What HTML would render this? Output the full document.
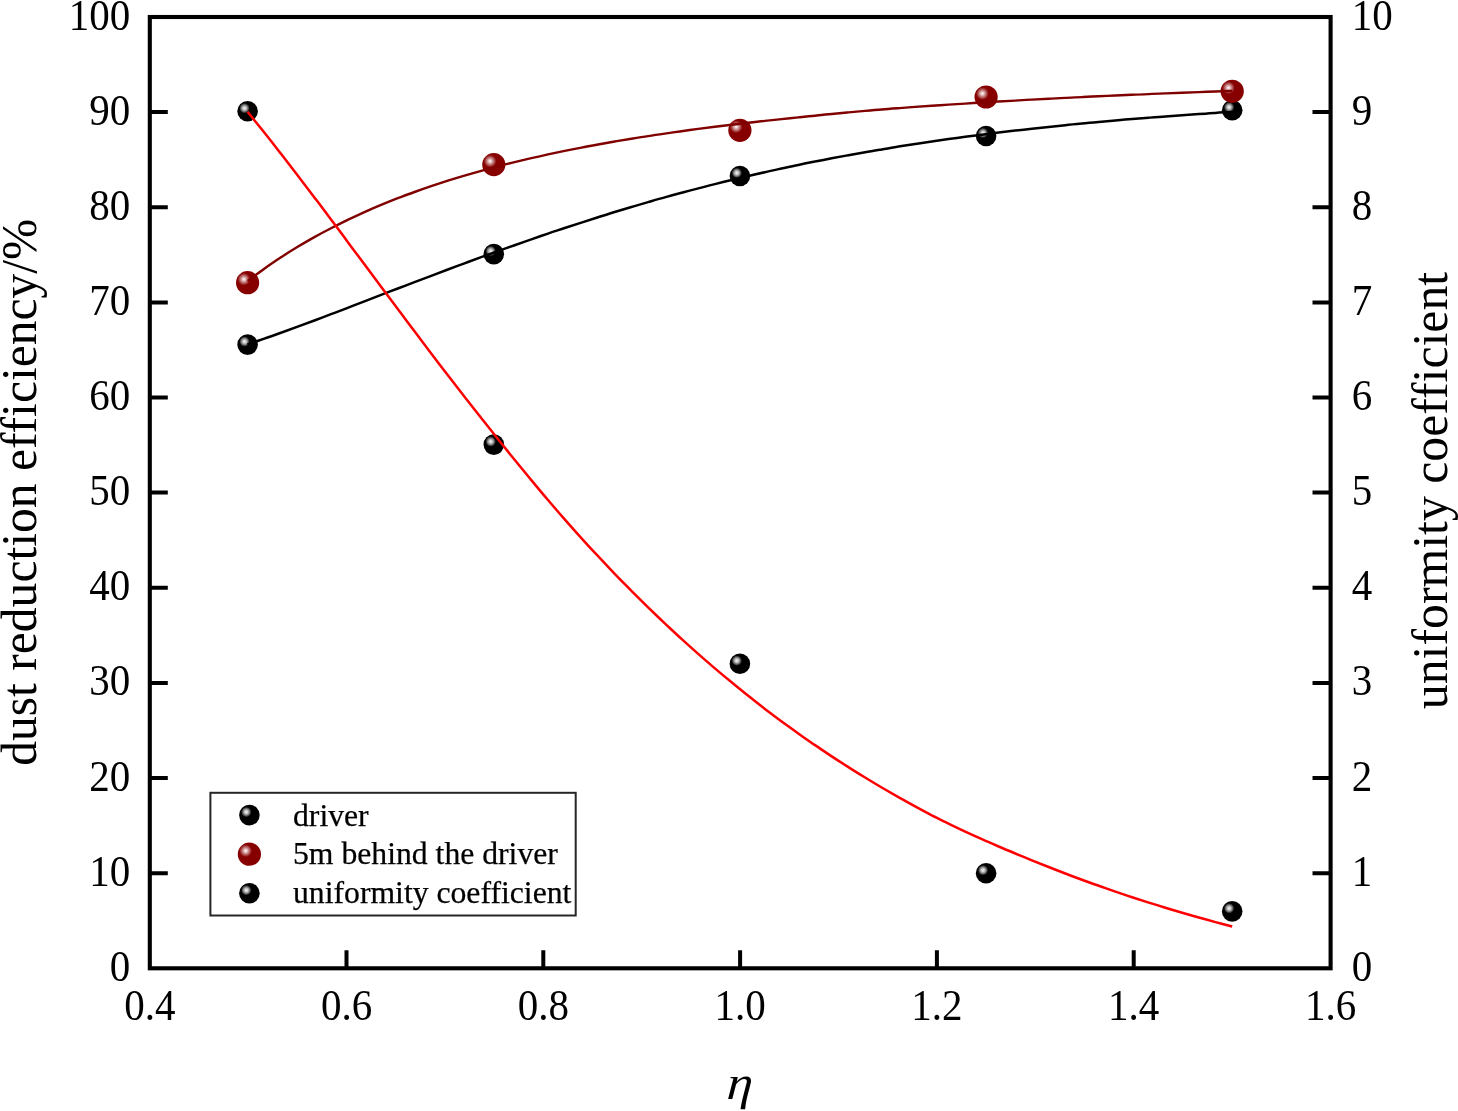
<!DOCTYPE html>
<html lang="en"><head><meta charset="utf-8"><title>Dust reduction efficiency and uniformity coefficient</title>
<style>html,body{margin:0;padding:0;background:#fff}svg{display:block}text{font-family:"Liberation Serif",serif;fill:#000}</style></head><body>
<svg width="1458" height="1111" viewBox="0 0 1458 1111">
<defs>
<radialGradient id="gb" cx="0.35" cy="0.35" r="0.25" fx="0.35" fy="0.35"><stop offset="0" stop-color="#f4f4f4"/><stop offset="0.3" stop-color="#cfcfcf"/><stop offset="0.65" stop-color="#777"/><stop offset="1" stop-color="#000"/></radialGradient>
<radialGradient id="gm" cx="0.34" cy="0.35" r="0.27" fx="0.34" fy="0.35"><stop offset="0" stop-color="#fff"/><stop offset="0.15" stop-color="#f2dcdc"/><stop offset="1" stop-color="#860000"/></radialGradient>
</defs>
<rect width="1458" height="1111" fill="#fff"/>
<rect x="149.8" y="17.0" width="1180.8" height="951.3" fill="none" stroke="#000" stroke-width="4.1"/>
<path d="M149.8,873.2h18M1330.5,873.2h-18M149.8,778.0h18M1330.5,778.0h-18M149.8,682.9h18M1330.5,682.9h-18M149.8,587.8h18M1330.5,587.8h-18M149.8,492.6h18M1330.5,492.6h-18M149.8,397.5h18M1330.5,397.5h-18M149.8,302.4h18M1330.5,302.4h-18M149.8,207.3h18M1330.5,207.3h-18M149.8,112.1h18M1330.5,112.1h-18M346.5,968.3v-18M543.3,968.3v-18M740.1,968.3v-18M936.9,968.3v-18M1133.7,968.3v-18" stroke="#000" stroke-width="4" fill="none"/>
<g font-size="41.0">
<text transform="translate(130.3,980.8) scale(1,1.070)" text-anchor="end">0</text>
<text transform="translate(130.3,885.7) scale(1,1.070)" text-anchor="end">10</text>
<text transform="translate(130.3,790.5) scale(1,1.070)" text-anchor="end">20</text>
<text transform="translate(130.3,695.4) scale(1,1.070)" text-anchor="end">30</text>
<text transform="translate(130.3,600.3) scale(1,1.070)" text-anchor="end">40</text>
<text transform="translate(130.3,505.1) scale(1,1.070)" text-anchor="end">50</text>
<text transform="translate(130.3,410.0) scale(1,1.070)" text-anchor="end">60</text>
<text transform="translate(130.3,314.9) scale(1,1.070)" text-anchor="end">70</text>
<text transform="translate(130.3,219.8) scale(1,1.070)" text-anchor="end">80</text>
<text transform="translate(130.3,124.6) scale(1,1.070)" text-anchor="end">90</text>
<text transform="translate(130.3,29.5) scale(1,1.070)" text-anchor="end">100</text>
<text transform="translate(1351.8,980.8) scale(1,1.070)" text-anchor="start">0</text>
<text transform="translate(1351.8,885.7) scale(1,1.070)" text-anchor="start">1</text>
<text transform="translate(1351.8,790.5) scale(1,1.070)" text-anchor="start">2</text>
<text transform="translate(1351.8,695.4) scale(1,1.070)" text-anchor="start">3</text>
<text transform="translate(1351.8,600.3) scale(1,1.070)" text-anchor="start">4</text>
<text transform="translate(1351.8,505.1) scale(1,1.070)" text-anchor="start">5</text>
<text transform="translate(1351.8,410.0) scale(1,1.070)" text-anchor="start">6</text>
<text transform="translate(1351.8,314.9) scale(1,1.070)" text-anchor="start">7</text>
<text transform="translate(1351.8,219.8) scale(1,1.070)" text-anchor="start">8</text>
<text transform="translate(1351.8,124.6) scale(1,1.070)" text-anchor="start">9</text>
<text transform="translate(1351.8,29.5) scale(1,1.070)" text-anchor="start">10</text>
<text transform="translate(149.8,1019.8) scale(1,1.070)" text-anchor="middle">0.4</text>
<text transform="translate(346.5,1019.8) scale(1,1.070)" text-anchor="middle">0.6</text>
<text transform="translate(543.3,1019.8) scale(1,1.070)" text-anchor="middle">0.8</text>
<text transform="translate(740.1,1019.8) scale(1,1.070)" text-anchor="middle">1.0</text>
<text transform="translate(936.9,1019.8) scale(1,1.070)" text-anchor="middle">1.2</text>
<text transform="translate(1133.7,1019.8) scale(1,1.070)" text-anchor="middle">1.4</text>
<text transform="translate(1330.5,1019.8) scale(1,1.070)" text-anchor="middle">1.6</text>
</g>
<text font-size="49.6" text-anchor="middle" transform="translate(36.2,492.2) rotate(-90)">dust reduction efficiency/%</text>
<text font-size="49.8" text-anchor="middle" transform="translate(1447,490.5) rotate(-90)">uniformity coefficient</text>
<text font-size="48" font-style="italic" text-anchor="middle" transform="translate(739,1099) skewX(-4) scale(1.08,1)">η</text>
<circle cx="247.6" cy="344.6" r="10.3" fill="url(#gb)"/>
<circle cx="493.8" cy="254.1" r="10.3" fill="url(#gb)"/>
<circle cx="739.9" cy="176.0" r="10.3" fill="url(#gb)"/>
<circle cx="986.1" cy="136.0" r="10.3" fill="url(#gb)"/>
<circle cx="1232.2" cy="110.3" r="10.3" fill="url(#gb)"/>
<path d="M247.6,344.5 C250.4,343.5 258.7,340.6 264.3,338.6 C269.9,336.7 275.4,334.7 281.0,332.7 C286.5,330.7 292.1,328.7 297.7,326.6 C303.2,324.6 308.8,322.6 314.4,320.5 C319.9,318.4 325.5,316.3 331.0,314.2 C336.6,312.1 342.2,309.9 347.7,307.8 C353.3,305.7 358.9,303.5 364.4,301.4 C370.0,299.2 375.5,297.1 381.1,294.9 C386.7,292.8 392.2,290.6 397.8,288.5 C403.4,286.4 408.9,284.2 414.5,282.1 C420.0,280.0 425.6,277.9 431.2,275.8 C436.7,273.7 442.3,271.6 447.9,269.5 C453.4,267.5 459.0,265.4 464.5,263.3 C470.1,261.3 475.7,259.2 481.2,257.2 C486.8,255.2 492.4,253.1 497.9,251.1 C503.5,249.1 509.0,247.2 514.6,245.2 C520.2,243.2 525.7,241.3 531.3,239.4 C536.9,237.4 542.4,235.5 548.0,233.6 C553.5,231.7 559.1,229.9 564.7,228.0 C570.2,226.2 575.8,224.4 581.4,222.6 C586.9,220.8 592.5,219.0 598.1,217.2 C603.6,215.5 609.2,213.8 614.7,212.0 C620.3,210.3 625.9,208.7 631.4,207.0 C637.0,205.4 642.6,203.7 648.1,202.1 C653.7,200.5 659.2,198.9 664.8,197.4 C670.4,195.8 675.9,194.3 681.5,192.8 C687.1,191.3 692.6,189.8 698.2,188.4 C703.7,186.9 709.3,185.5 714.9,184.1 C720.4,182.7 726.0,181.3 731.6,180.0 C737.1,178.6 742.7,177.3 748.2,176.0 C753.8,174.7 759.4,173.4 764.9,172.2 C770.5,170.9 776.1,169.7 781.6,168.5 C787.2,167.3 792.7,166.1 798.3,165.0 C803.9,163.8 809.4,162.7 815.0,161.6 C820.6,160.5 826.1,159.4 831.7,158.3 C837.2,157.3 842.8,156.2 848.4,155.2 C853.9,154.2 859.5,153.2 865.1,152.2 C870.6,151.2 876.2,150.3 881.7,149.4 C887.3,148.4 892.9,147.5 898.4,146.6 C904.0,145.7 909.6,144.9 915.1,144.0 C920.7,143.2 926.3,142.3 931.8,141.5 C937.4,140.7 942.9,139.9 948.5,139.1 C954.1,138.3 959.6,137.6 965.2,136.8 C970.8,136.1 976.3,135.4 981.9,134.7 C987.4,134.0 993.0,133.3 998.6,132.6 C1004.1,131.9 1009.7,131.3 1015.3,130.6 C1020.8,130.0 1026.4,129.3 1031.9,128.7 C1037.5,128.1 1043.1,127.5 1048.6,126.9 C1054.2,126.3 1059.8,125.8 1065.3,125.2 C1070.9,124.6 1076.4,124.1 1082.0,123.6 C1087.6,123.0 1093.1,122.5 1098.7,122.0 C1104.3,121.5 1109.8,121.0 1115.4,120.5 C1120.9,120.0 1126.5,119.5 1132.1,119.1 C1137.6,118.6 1143.2,118.2 1148.8,117.7 C1154.3,117.3 1159.9,116.9 1165.4,116.4 C1171.0,116.0 1176.6,115.6 1182.1,115.2 C1187.7,114.8 1193.3,114.4 1198.8,114.0 C1204.4,113.7 1209.9,113.3 1215.5,112.9 C1221.1,112.6 1229.4,112.0 1232.2,111.9" fill="none" stroke="#000" stroke-width="2.5"/>
<circle cx="247.6" cy="282.7" r="11.6" fill="url(#gm)"/>
<circle cx="493.8" cy="164.6" r="11.6" fill="url(#gm)"/>
<circle cx="739.9" cy="130.3" r="11.6" fill="url(#gm)"/>
<circle cx="986.1" cy="97.0" r="11.6" fill="url(#gm)"/>
<circle cx="1232.2" cy="91.3" r="11.6" fill="url(#gm)"/>
<path d="M247.6,281.0 C250.4,279.0 258.7,272.6 264.3,268.7 C269.9,264.7 275.4,261.0 281.0,257.3 C286.5,253.7 292.1,250.2 297.7,246.8 C303.2,243.5 308.8,240.2 314.4,237.1 C319.9,234.0 325.5,231.0 331.0,228.2 C336.6,225.3 342.2,222.5 347.7,219.8 C353.3,217.2 358.9,214.6 364.4,212.1 C370.0,209.6 375.5,207.2 381.1,204.9 C386.7,202.6 392.2,200.4 397.8,198.2 C403.4,196.1 408.9,194.0 414.5,192.0 C420.0,190.0 425.6,188.0 431.2,186.1 C436.7,184.3 442.3,182.5 447.9,180.7 C453.4,178.9 459.0,177.2 464.5,175.6 C470.1,174.0 475.7,172.4 481.2,170.8 C486.8,169.3 492.4,167.8 497.9,166.3 C503.5,164.9 509.0,163.5 514.6,162.1 C520.2,160.8 525.7,159.5 531.3,158.2 C536.9,156.9 542.4,155.7 548.0,154.4 C553.5,153.2 559.1,152.1 564.7,150.9 C570.2,149.8 575.8,148.7 581.4,147.6 C586.9,146.5 592.5,145.5 598.1,144.5 C603.6,143.5 609.2,142.5 614.7,141.5 C620.3,140.6 625.9,139.6 631.4,138.7 C637.0,137.8 642.6,136.9 648.1,136.1 C653.7,135.2 659.2,134.4 664.8,133.6 C670.4,132.8 675.9,132.0 681.5,131.2 C687.1,130.4 692.6,129.7 698.2,128.9 C703.7,128.2 709.3,127.5 714.9,126.8 C720.4,126.1 726.0,125.4 731.6,124.7 C737.1,124.1 742.7,123.4 748.2,122.8 C753.8,122.2 759.4,121.6 764.9,120.9 C770.5,120.3 776.1,119.7 781.6,119.1 C787.2,118.5 792.7,118.0 798.3,117.4 C803.9,116.8 809.4,116.2 815.0,115.7 C820.6,115.1 826.1,114.5 831.7,114.0 C837.2,113.5 842.8,112.9 848.4,112.4 C853.9,111.9 859.5,111.4 865.1,110.9 C870.6,110.4 876.2,109.9 881.7,109.5 C887.3,109.0 892.9,108.6 898.4,108.2 C904.0,107.8 909.6,107.3 915.1,106.9 C920.7,106.5 926.3,106.2 931.8,105.8 C937.4,105.4 942.9,105.0 948.5,104.6 C954.1,104.3 959.6,103.9 965.2,103.6 C970.8,103.2 976.3,102.9 981.9,102.5 C987.4,102.2 993.0,101.8 998.6,101.5 C1004.1,101.2 1009.7,100.9 1015.3,100.6 C1020.8,100.2 1026.4,99.9 1031.9,99.6 C1037.5,99.3 1043.1,99.0 1048.6,98.7 C1054.2,98.5 1059.8,98.2 1065.3,97.9 C1070.9,97.6 1076.4,97.3 1082.0,97.1 C1087.6,96.8 1093.1,96.5 1098.7,96.3 C1104.3,96.0 1109.8,95.8 1115.4,95.5 C1120.9,95.3 1126.5,95.0 1132.1,94.8 C1137.6,94.5 1143.2,94.3 1148.8,94.1 C1154.3,93.8 1159.9,93.6 1165.4,93.4 C1171.0,93.2 1176.6,92.9 1182.1,92.7 C1187.7,92.5 1193.3,92.3 1198.8,92.1 C1204.4,91.9 1209.9,91.7 1215.5,91.5 C1221.1,91.3 1229.4,91.0 1232.2,90.9" fill="none" stroke="#800000" stroke-width="2.4"/>
<circle cx="247.6" cy="111.3" r="10.3" fill="url(#gb)"/>
<circle cx="493.8" cy="444.6" r="10.3" fill="url(#gb)"/>
<circle cx="739.9" cy="663.7" r="10.3" fill="url(#gb)"/>
<circle cx="986.1" cy="873.3" r="10.3" fill="url(#gb)"/>
<circle cx="1232.2" cy="911.4" r="10.3" fill="url(#gb)"/>
<path d="M247.6,111.7 C250.4,115.2 258.7,125.5 264.3,132.5 C269.9,139.5 275.4,146.6 281.0,153.8 C286.5,160.9 292.1,168.1 297.7,175.4 C303.2,182.7 308.8,190.0 314.4,197.4 C319.9,204.7 325.5,212.1 331.0,219.6 C336.6,227.0 342.2,234.4 347.7,241.9 C353.3,249.4 358.9,256.8 364.4,264.3 C370.0,271.8 375.5,279.3 381.1,286.7 C386.7,294.2 392.2,301.7 397.8,309.1 C403.4,316.5 408.9,324.0 414.5,331.3 C420.0,338.7 425.6,346.1 431.2,353.4 C436.7,360.7 442.3,368.0 447.9,375.2 C453.4,382.4 459.0,389.6 464.5,396.8 C470.1,403.9 475.7,411.0 481.2,418.0 C486.8,425.0 492.4,432.1 497.9,439.0 C503.5,446.0 509.0,452.9 514.6,459.8 C520.2,466.6 525.7,473.4 531.3,480.1 C536.9,486.8 542.4,493.5 548.0,500.0 C553.5,506.5 559.1,513.0 564.7,519.4 C570.2,525.7 575.8,532.0 581.4,538.1 C586.9,544.3 592.5,550.3 598.1,556.2 C603.6,562.2 609.2,568.0 614.7,573.8 C620.3,579.6 625.9,585.2 631.4,590.8 C637.0,596.4 642.6,602.0 648.1,607.4 C653.7,612.8 659.2,618.1 664.8,623.4 C670.4,628.6 675.9,633.8 681.5,638.9 C687.1,644.0 692.6,649.0 698.2,653.9 C703.7,658.8 709.3,663.6 714.9,668.4 C720.4,673.1 726.0,677.8 731.6,682.3 C737.1,686.9 742.7,691.4 748.2,695.8 C753.8,700.3 759.4,704.6 764.9,708.9 C770.5,713.1 776.1,717.3 781.6,721.4 C787.2,725.5 792.7,729.5 798.3,733.5 C803.9,737.4 809.4,741.3 815.0,745.1 C820.6,748.9 826.1,752.7 831.7,756.4 C837.2,760.0 842.8,763.6 848.4,767.1 C853.9,770.7 859.5,774.1 865.1,777.5 C870.6,780.9 876.2,784.3 881.7,787.5 C887.3,790.8 892.9,794.0 898.4,797.2 C904.0,800.3 909.6,803.4 915.1,806.4 C920.7,809.4 926.3,812.4 931.8,815.3 C937.4,818.1 942.9,820.9 948.5,823.6 C954.1,826.4 959.6,829.0 965.2,831.6 C970.8,834.2 976.3,836.7 981.9,839.2 C987.4,841.7 993.0,844.1 998.6,846.5 C1004.1,848.9 1009.7,851.2 1015.3,853.5 C1020.8,855.8 1026.4,858.1 1031.9,860.4 C1037.5,862.6 1043.1,864.8 1048.6,867.0 C1054.2,869.2 1059.8,871.4 1065.3,873.5 C1070.9,875.7 1076.4,877.8 1082.0,879.8 C1087.6,881.8 1093.1,883.9 1098.7,885.8 C1104.3,887.8 1109.8,889.7 1115.4,891.6 C1120.9,893.5 1126.5,895.4 1132.1,897.2 C1137.6,899.0 1143.2,900.8 1148.8,902.6 C1154.3,904.3 1159.9,906.0 1165.4,907.7 C1171.0,909.4 1176.6,911.1 1182.1,912.7 C1187.7,914.3 1193.3,915.9 1198.8,917.5 C1204.4,919.0 1209.9,920.6 1215.5,922.1 C1221.1,923.6 1229.4,925.8 1232.2,926.5" fill="none" stroke="#f00" stroke-width="2.5"/>
<rect x="210.4" y="792.8" width="365.3" height="122.7" fill="#fff" stroke="#262626" stroke-width="2"/>
<circle cx="249.4" cy="815.1" r="10.3" fill="url(#gb)"/>
<circle cx="249.4" cy="854.2" r="11.6" fill="url(#gm)"/>
<circle cx="249.4" cy="893.3" r="10.3" fill="url(#gb)"/>
<g font-size="31.7" stroke="#000" stroke-width="0.25">
<text x="293" y="825.7">driver</text>
<text x="293" y="863.5">5m behind the driver</text>
<text x="293" y="903">uniformity coefficient</text>
</g>
</svg></body></html>
